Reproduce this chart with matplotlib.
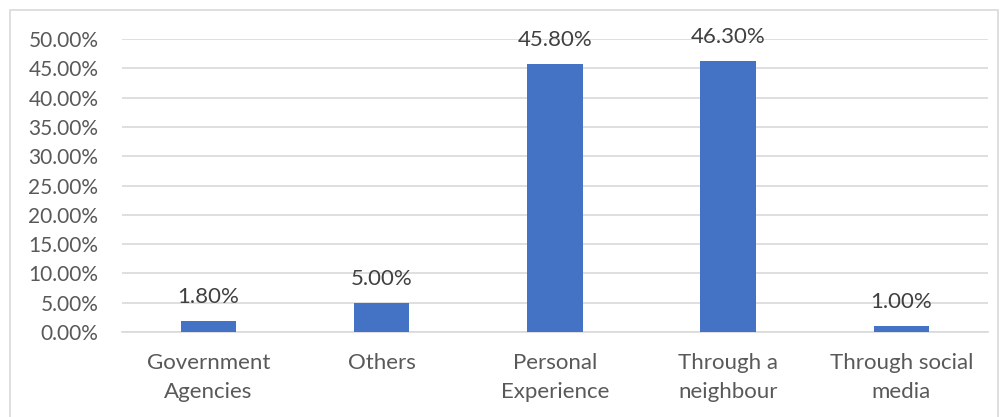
import matplotlib

matplotlib.use('Agg')
import matplotlib.pyplot as plt
import matplotlib.patches as mpc
import numpy as np

categories = ["Government\nAgencies", "Others", "Personal\nExperience", "Through a\nneighbour", "Through social\nmedia"]
values = [1.80, 5.00, 45.80, 46.30, 1.00]
value_labels = ["1.80%", "5.00%", "45.80%", "46.30%", "1.00%"]
yticks = np.arange(0, 55, 5)

plt.rcParams['font.family'] = ['Lato', 'DejaVu Sans']
text_color = '#595959'

fig = plt.figure(figsize=(10.04, 4.17), dpi=100)
ax = fig.add_axes([0.1215, 0.2038, 0.8625, 0.7027])

x = np.arange(len(categories))
ax.bar(x, values, width=0.32, color='#4472C4', zorder=3)
for xi, v, lab in zip(x, values, value_labels):
    ax.text(xi, v + 2.4, lab, ha='center', va='bottom', fontsize=16,
            color='#404040', clip_on=False, zorder=4)

ax.set_xlim(-0.5, len(categories) - 0.5)
ax.set_ylim(0, 50)
ax.set_yticks(yticks)
ax.set_yticklabels(["{:.2f}%".format(t) for t in yticks], fontsize=15, color=text_color)
ax.set_xticks(x)
ax.set_xticklabels(categories, fontsize=16, color=text_color, linespacing=1.55)
ax.tick_params(axis='both', length=0)
ax.tick_params(axis='x', pad=15)
ax.tick_params(axis='y', pad=17)
ax.yaxis.grid(True, color='#d9d9d9', linewidth=1.2, zorder=0)
for s in ['top', 'right', 'left']:
    ax.spines[s].set_visible(False)
ax.spines['bottom'].set_color('#d9d9d9')
ax.spines['bottom'].set_linewidth(1.2)

# outer chart border
fig.patches.append(mpc.Rectangle((10 / 1004, -0.05), 988 / 1004, 1 - 10 / 417 + 0.05,
                                 transform=fig.transFigure, fill=False,
                                 edgecolor='#d9d9d9', linewidth=1.2))

plt.savefig('out.png', dpi=100)
